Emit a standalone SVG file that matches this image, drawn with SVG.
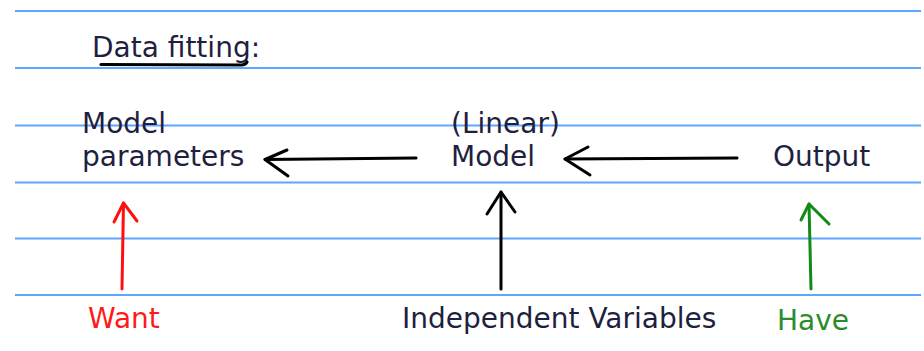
<svg xmlns="http://www.w3.org/2000/svg" width="924" height="351" viewBox="0 0 924 351">
  <style>
    .rule { stroke: #5ea6ff; stroke-width: 2; fill: none; }
    .txt { font-family: "DejaVu Sans", Verdana, sans-serif; font-size: 28px; fill: #1f1f3f; }
    .ink { fill: none; stroke-width: 3; stroke-linecap: round; stroke-linejoin: round; }
    .black { stroke: #000; }
    .red { stroke: #ff1010; }
    .green { stroke: #138a13; }
  </style>
  <rect width="924" height="351" fill="#fff"/>

  <!-- notebook ruling -->
  <g id="ruling">
    <line class="rule" x1="15" y1="11" x2="921" y2="11"/>
    <line class="rule" x1="15" y1="68" x2="921" y2="68"/>
    <line class="rule" x1="15" y1="125.5" x2="921" y2="125.5"/>
    <line class="rule" x1="15" y1="182.5" x2="921" y2="182.5"/>
    <line class="rule" x1="15" y1="238.5" x2="921" y2="238.5"/>
    <line class="rule" x1="15" y1="295" x2="921" y2="295"/>
  </g>

  <g id="title">
    <text class="txt" x="92" y="57">Data fitting:</text>
    <path d="M101,64.5 L242,65 Q246,64.5 247,62" fill="none" stroke="#000" stroke-width="3.2" stroke-linecap="round"/>
  </g>

  <g id="model-parameters">
    <text class="txt" x="82" y="133">Model</text>
    <text class="txt" x="82" y="166">parameters</text>
  </g>

  <g id="linear-model">
    <text class="txt" x="451" y="133">(Linear)</text>
    <text class="txt" x="451" y="166">Model</text>
  </g>

  <g id="output">
    <text class="txt" x="773" y="166">Output</text>
  </g>

  <g id="want">
    <text class="txt" x="88" y="328" style="fill:#ff1a1a">Want</text>
  </g>

  <g id="independent-variables">
    <text class="txt" x="402" y="328">Independent Variables</text>
  </g>

  <g id="have">
    <text class="txt" x="777" y="330" style="fill:#2c8c2c">Have</text>
  </g>

  <!-- hand-drawn connectors -->
  <g id="connectors">
    <path class="ink black" d="M416,158 L265,159.5"/>
    <path class="ink black" d="M287,150 L265,159.5 L288,176"/>

    <path class="ink black" d="M737,158 L565,159"/>
    <path class="ink black" d="M588,147 L565,159 L590,175"/>

    <path class="ink red" d="M122,289 L123.5,203"/>
    <path class="ink red" d="M114,222 L123.5,203 L137,221"/>

    <path class="ink black" d="M501,289 L501,192"/>
    <path class="ink black" d="M487,214 L501,192 L515,212"/>

    <path class="ink green" d="M811,289 L809,204"/>
    <path class="ink green" d="M801,220 L809,204 L829,224"/>
  </g>
</svg>
